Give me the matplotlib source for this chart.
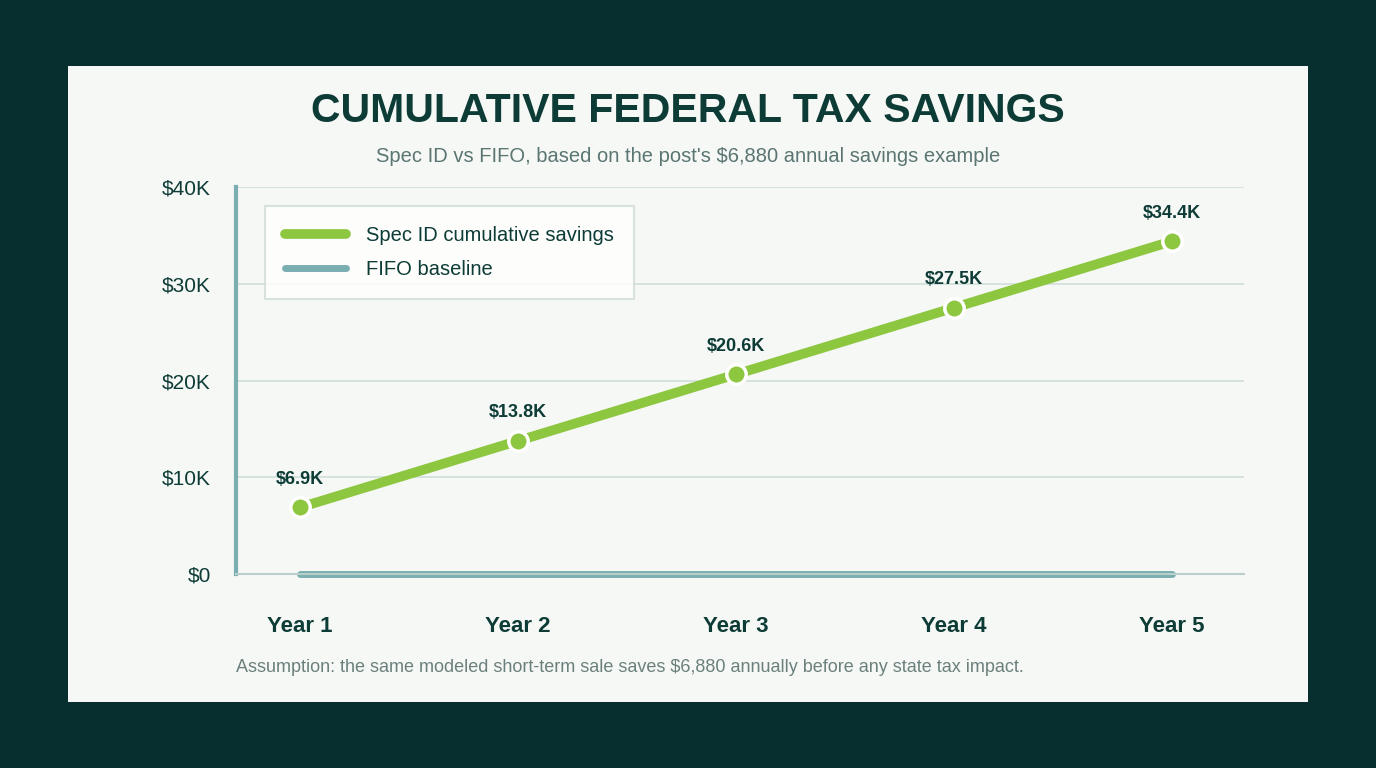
import matplotlib
matplotlib.use("Agg")
import matplotlib.pyplot as plt

years = ["Year 1", "Year 2", "Year 3", "Year 4", "Year 5"]
spec_id = [6880, 13760, 20640, 27520, 34400]
fifo = [0, 0, 0, 0, 0]
point_labels = ["$6.9K", "$13.8K", "$20.6K", "$27.5K", "$34.4K"]
yticks = [0, 10000, 20000, 30000, 40000]
ytick_labels = ["$0", "$10K", "$20K", "$30K", "$40K"]

plt.rcParams['font.family'] = ['Liberation Sans', 'DejaVu Sans']
W, H = 1376, 768
fig = plt.figure(figsize=(W/100, H/100), dpi=100)
fig.patch.set_facecolor("#072f2f")
bg = fig.add_axes([68/W, 1-702/H, (1308-68)/W, (702-66)/H], zorder=-1)
bg.set_facecolor("#f6f8f5"); bg.set_xticks([]); bg.set_yticks([])
for s in bg.spines.values():
    s.set_visible(False)

dark = "#0d3b36"
green = "#8dc63f"
teal = "#7aaeb0"
ax = fig.add_axes([236/W, 1-574/H, (1244-236)/W, (574-187)/H])
ax.set_facecolor("none")
x = list(range(1, 6))
ax.set_xlim(1-64/218, 5+72/218)
ax.set_ylim(0, 40000)
for t in yticks[1:]:
    ax.axhline(t, color="#d3e0dc", lw=1.3, zorder=1)
ax.plot(x, fifo, color=teal, lw=5, solid_capstyle="round", label="FIFO baseline", zorder=2, clip_on=False)
ax.plot(x, spec_id, color=green, lw=7, solid_capstyle="round", label="Spec ID cumulative savings",
        marker="o", ms=14, mfc=green, mec="white", mew=2.5, zorder=3)
for xi, v, lab in zip(x, spec_id, point_labels):
    ax.annotate(lab, (xi, v), xytext=(0, 14), textcoords="offset points", ha="center", va="bottom",
                fontsize=13, fontweight="bold", color=dark)
ax.set_yticks(yticks)
ax.set_yticklabels(ytick_labels, fontsize=15, color=dark)
ax.set_xticks(x)
ax.set_xticklabels(years, fontsize=16, fontweight="bold", color=dark)
ax.tick_params(length=0, axis="y", pad=18)
ax.tick_params(length=0, axis="x", pad=30)
for s in ["top", "right"]:
    ax.spines[s].set_visible(False)
ax.spines["left"].set_color(teal); ax.spines["left"].set_linewidth(3)
ax.spines["bottom"].set_color("#b8cfcc"); ax.spines["bottom"].set_linewidth(1.5)

h, l = ax.get_legend_handles_labels()
leg = ax.legend(h[::-1], l[::-1], loc="upper left", bbox_to_anchor=(29/1008, 1-19/387), fontsize=14.5,
                frameon=True, fancybox=False, borderpad=1.0, labelspacing=0.75, handlelength=3.0,
                handletextpad=1.0, borderaxespad=0)
leg.get_frame().set_edgecolor("#cfdcd8"); leg.get_frame().set_linewidth(1.5)
leg.get_frame().set_facecolor("white")
for t in leg.get_texts():
    t.set_color(dark)
for lh in leg.get_lines():
    lh.set_marker("")

fig.text(688/W, 1-111/H, "CUMULATIVE FEDERAL TAX SAVINGS", ha="center", va="center",
         fontsize=29.5, fontweight="bold", color=dark)
fig.text(688/W, 1-157/H, "Spec ID vs FIFO, based on the post's $6,880 annual savings example",
         ha="center", va="center", fontsize=14.5, color="#5a7572")
fig.text(236/W, 1-668/H, "Assumption: the same modeled short-term sale saves $6,880 annually before any state tax impact.",
         ha="left", va="center", fontsize=13, color="#6b807d")
fig.savefig("out.png", dpi=100, facecolor=fig.get_facecolor())
